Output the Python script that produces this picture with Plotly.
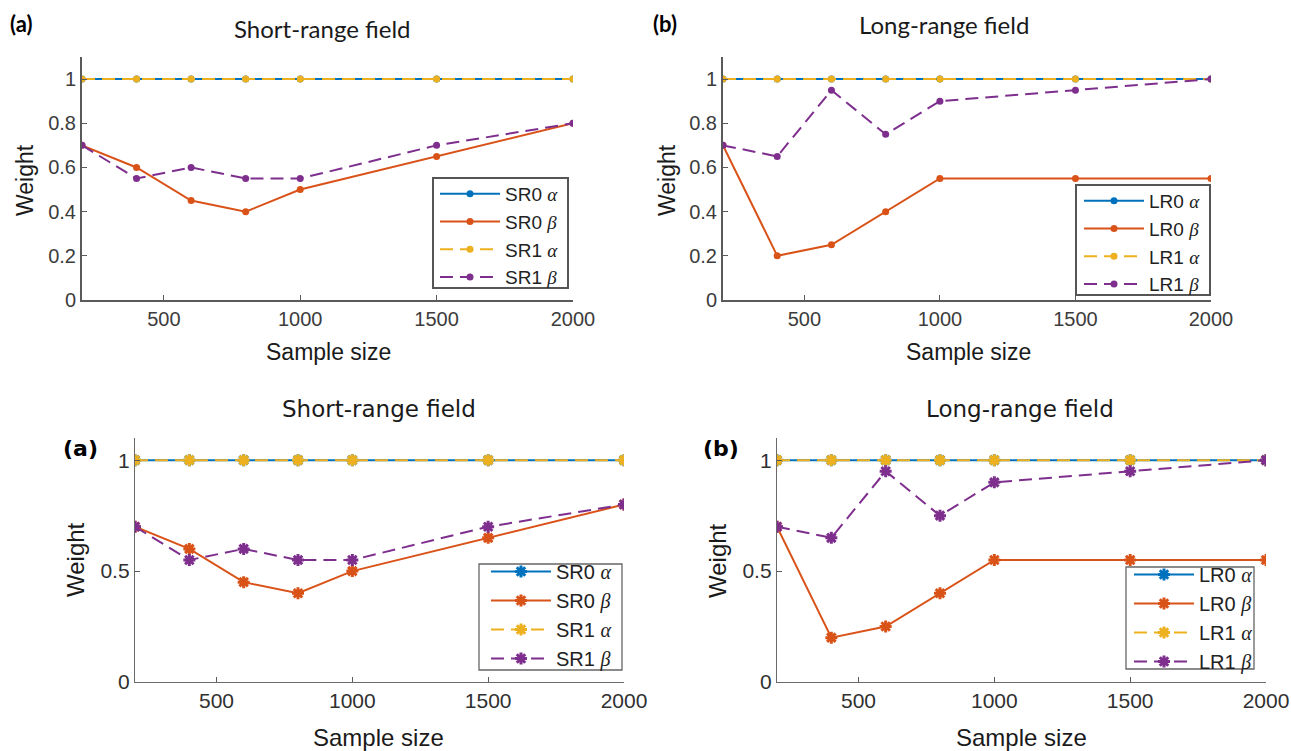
import plotly.graph_objects as go

W, H = 1291, 751

sample_size = [200, 400, 600, 800, 1000, 1500, 2000]
sr0_alpha = [1, 1, 1, 1, 1, 1, 1]
sr0_beta = [0.7, 0.6, 0.45, 0.4, 0.5, 0.65, 0.8]
sr1_alpha = [1, 1, 1, 1, 1, 1, 1]
sr1_beta = [0.7, 0.55, 0.6, 0.55, 0.55, 0.7, 0.8]
lr0_alpha = [1, 1, 1, 1, 1, 1, 1]
lr0_beta = [0.7, 0.2, 0.25, 0.4, 0.55, 0.55, 0.55]
lr1_alpha = [1, 1, 1, 1, 1, 1, 1]
lr1_beta = [0.7, 0.65, 0.95, 0.75, 0.9, 0.95, 1.0]

x_ticks = [500, 1000, 1500, 2000]
y_ticks_top = [0, 0.2, 0.4, 0.6, 0.8, 1]
y_ticks_bottom = [0, 0.5, 1]

BLUE, ORANGE, YELLOW, PURPLE = "#0072BD", "#D95319", "#EDB120", "#7E2F8E"
ARIAL = "Liberation Sans, Arial, sans-serif"
TOPTITLE = "Lato, sans-serif"
BOTTITLE = "DejaVu Sans, Verdana, sans-serif"


def px_x(p):
    return p / W


def px_y(p):
    return 1 - p / H


# panel boxes in pixels: (left, right, top, bottom)
panels = {
    "TL": (82, 573, 57, 300),
    "TR": (723, 1211, 57, 300),
    "BL": (135, 624, 438, 682),
    "BR": (777, 1266, 438, 682),
}

series_sets = [
    ("TL", "SR", [sr0_alpha, sr0_beta, sr1_alpha, sr1_beta], "top"),
    ("TR", "LR", [lr0_alpha, lr0_beta, lr1_alpha, lr1_beta], "top"),
    ("BL", "SR", [sr0_alpha, sr0_beta, sr1_alpha, sr1_beta], "bottom"),
    ("BR", "LR", [lr0_alpha, lr0_beta, lr1_alpha, lr1_beta], "bottom"),
]

# legend frame (left, top, right, bottom) and legend top-left position
legend_frames = {
    "TL": (433, 178, 568, 288),
    "TR": (1076, 185, 1210, 295),
    "BL": (479, 564, 622, 670),
    "BR": (1126, 567, 1254, 669),
}
legend_pos = {
    "TL": (435, 175),
    "TR": (1079, 182),
    "BL": (486, 552),
    "BR": (1129, 555),
}

fig = go.Figure()
layout = dict(
    width=W, height=H,
    margin=dict(l=0, r=0, t=0, b=0, autoexpand=False),
    paper_bgcolor="white", plot_bgcolor="white",
    showlegend=True,
    annotations=[],
    shapes=[],
)


def greek(ch):
    return f"<span style=\"font-family:'Liberation Serif', serif\"><i>{ch}</i></span>"


for i, (key, prefix, data, style) in enumerate(series_sets):
    n = i + 1
    xa = "x" if n == 1 else f"x{n}"
    ya = "y" if n == 1 else f"y{n}"
    leg = "legend" if n == 1 else f"legend{n}"
    names = [f"{prefix}0 {greek('α')}", f"{prefix}0 {greek('β')}",
             f"{prefix}1 {greek('α')}", f"{prefix}1 {greek('β')}"]
    colors = [BLUE, ORANGE, YELLOW, PURPLE]
    dashes = ["solid", "solid", "13px,7px", "13px,7px"]
    top = style == "top"
    for name, vals, col, dsh in zip(names, data, colors, dashes):
        if top:
            marker = dict(symbol="circle", size=7, color=col)
        else:
            marker = dict(symbol="asterisk-open", size=10, color=col, line=dict(color=col, width=3))
        fig.add_trace(go.Scatter(
            x=sample_size, y=vals, name=name, mode="lines+markers",
            line=dict(color=col, width=2, dash=dsh), marker=marker,
            xaxis=xa, yaxis=ya, legend=leg,
        ))
    l, r, t, b = panels[key]
    axis_common = dict(
        showgrid=False, zeroline=False, showline=True, automargin=False,
        linecolor="#5a5a5a" if top else "#6a6a6a", linewidth=2 if top else 1.3,
        ticks="inside", ticklen=5, tickcolor="#5a5a5a", tickwidth=1.3,
        tickfont=dict(family=ARIAL, size=20 if top else 21, color="#3c3c3c" if top else "#303030"),
    )
    yt = y_ticks_top if top else y_ticks_bottom
    layout["xaxis" if n == 1 else f"xaxis{n}"] = dict(
        axis_common, domain=[px_x(l), px_x(r)], range=[200, 2000],
        tickvals=x_ticks, anchor=ya,
    )
    layout["yaxis" if n == 1 else f"yaxis{n}"] = dict(
        axis_common, domain=[px_y(b), px_y(t)], range=[0, 1.1],
        tickvals=yt, ticktext=[f"{v:g}" for v in yt], anchor=xa,
    )
    fl, ft, fr, fb = legend_frames[key]
    layout["shapes"].append(dict(
        type="rect", xref="paper", yref="paper", layer="above",
        x0=px_x(fl), x1=px_x(fr), y0=px_y(fb), y1=px_y(ft),
        fillcolor="white",
        line=dict(color="#555555" if top else "#666666", width=2 if top else 1.3),
    ))
    lx, ly = legend_pos[key]
    fsize = 19 if top else 20
    layout[leg] = dict(
        x=px_x(lx), y=px_y(ly), xanchor="left", yanchor="top",
        xref="paper", yref="paper",
        bgcolor="rgba(0,0,0,0)", borderwidth=0,
        font=dict(family=ARIAL, size=fsize, color="#222222"),
        itemwidth=60,
    )

# text annotations: (text, x, y, size, font, bold, angle)
texts = [
    ("Short-range field", 322, 28, 24, TOPTITLE, False, 0),
    ("(a)", 21, 24, 22, TOPTITLE, True, 0),
    ("Long-range field", 944, 25, 24, TOPTITLE, False, 0),
    ("(b)", 665, 24, 22, TOPTITLE, True, 0),
    ("Weight", 25, 180, 23, ARIAL, False, -90),
    ("Sample size", 328, 352, 23, ARIAL, False, 0),
    ("Weight", 667, 180, 23, ARIAL, False, -90),
    ("Sample size", 968, 352, 23, ARIAL, False, 0),
    ("Short-range field", 379, 409, 23, BOTTITLE, False, 0),
    ("(a)", 80, 448, 22, BOTTITLE, True, 0),
    ("Long-range field", 1020, 409, 23, BOTTITLE, False, 0),
    ("(b)", 721, 448, 22, BOTTITLE, True, 0),
    ("Weight", 75, 560, 24, ARIAL, False, -90),
    ("Sample size", 378, 737, 24, ARIAL, False, 0),
    ("Weight", 717, 560, 24, ARIAL, False, -90),
    ("Sample size", 1021, 737, 24, ARIAL, False, 0),
]
for txt, x, y, size, fam, bold, ang in texts:
    layout["annotations"].append(dict(
        text=f"<b>{txt}</b>" if bold else txt,
        x=px_x(x), y=px_y(y), xref="paper", yref="paper",
        xanchor="center", yanchor="middle", showarrow=False, textangle=ang,
        font=dict(family=fam, size=size, color="#1a1a1a" if not bold else "black"),
    ))

fig.update_layout(**layout)
fig.write_html("out.html")
